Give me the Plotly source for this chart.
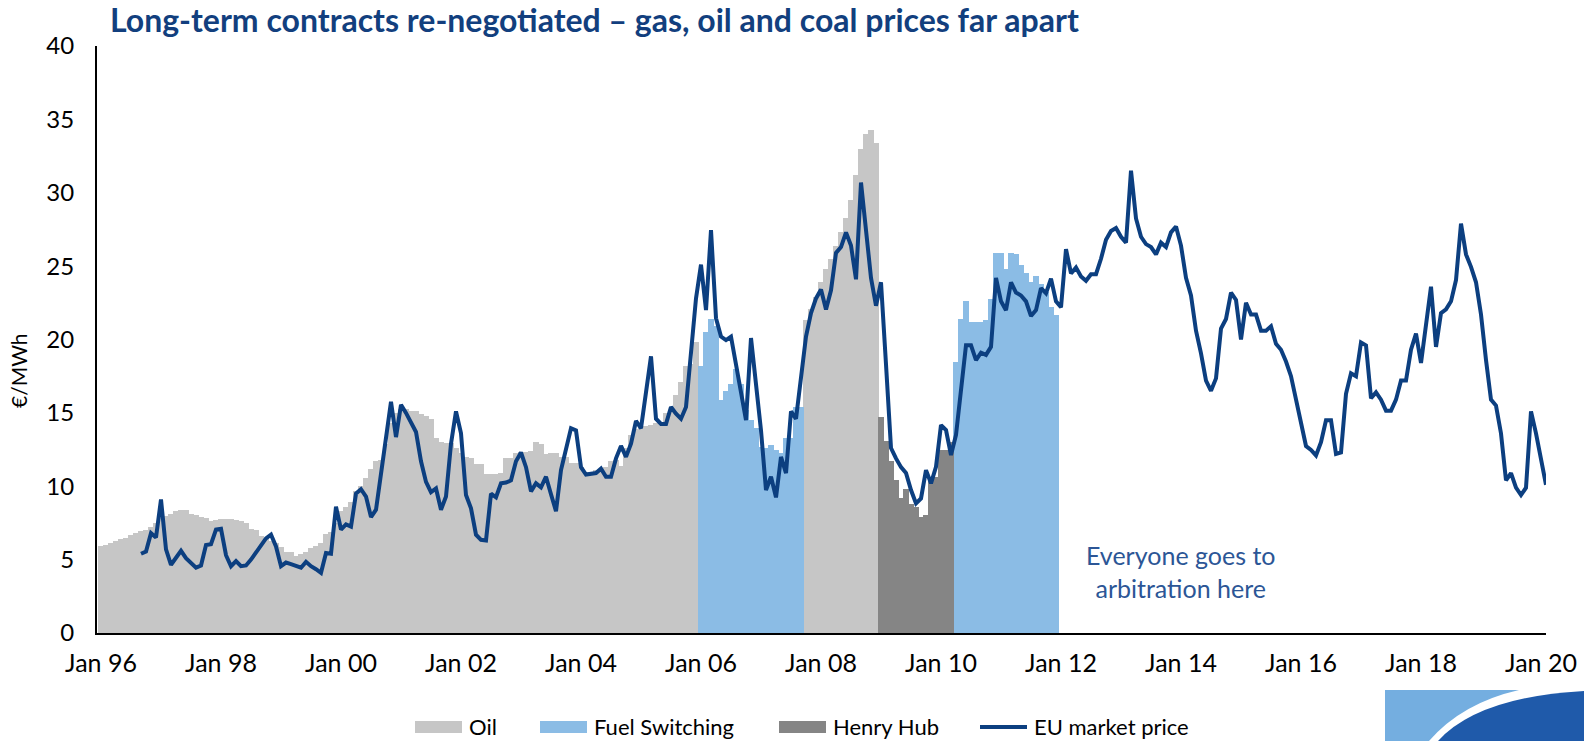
import plotly.graph_objects as go

FIRST_YEAR = 1996


def month_index(ym):
    """Months elapsed since Jan 1996 for a 'YYYY-MM' string."""
    year, month = ym.split("-")
    return (int(year) - FIRST_YEAR) * 12 + int(month) - 1


# Long-term contract price by indexation regime, EUR/MWh, one value per month
oil_jan96_dec05 = [
    5.95, 6.0, 6.1, 6.25, 6.4, 6.5, 6.65, 6.8, 6.95, 7.05, 7.25, 7.5,
    7.85, 7.95, 8.1, 8.3, 8.35, 8.35, 8.1, 8.05, 7.9, 7.85, 7.65, 7.7,
    7.8, 7.8, 7.8, 7.7, 7.65, 7.5, 7.1, 7.0, 6.6, 6.5, 6.3, 6.1,
    5.85, 5.55, 5.5, 5.25, 5.35, 5.55, 5.8, 5.9, 6.15, 6.75, 6.9, 7.5,
    8.3, 8.6, 8.95, 9.7, 10.0, 10.55, 11.15, 11.75, 11.8, 12.9, 14.3, 15.0,
    15.25, 15.25, 15.15, 15.1, 14.95, 14.8, 14.6, 13.3, 13.0, 12.95, 12.95, 12.6,
    12.3, 12.0, 11.95, 11.5, 11.5, 10.85, 10.85, 10.85, 10.9, 11.9, 11.9, 12.3,
    12.35, 12.35, 12.4, 13.0, 12.9, 12.2, 12.3, 12.3, 12.0, 12.0, 11.6, 11.6,
    11.3, 11.0, 11.0, 11.1, 11.2, 11.3, 11.7, 11.8, 11.4, 12.6, 13.5, 13.9,
    14.0, 14.1, 14.2, 14.3, 14.4, 15.0, 15.2, 16.2, 17.1, 18.2, 18.3, 19.8,
]
fuel_switching_jan06_sep07 = [
    18.2, 20.5, 21.4, 20.9, 15.9, 16.5, 17.0, 18.0, 17.0, 15.2, 14.5, 14.0,
    12.7, 12.6, 12.8, 12.5, 12.3, 13.3, 13.3, 15.4, 15.4,
]
oil_oct07_dec08 = [
    21.3, 22.1, 22.9,
    23.9, 24.8, 25.5, 26.4, 27.3, 28.3, 29.5, 31.2, 33.0, 34.0, 34.3, 33.4,
]
henry_hub_jan09_mar10 = [
    14.7, 13.1, 11.7, 10.4, 9.2, 9.8, 8.8, 8.6, 7.9, 8.05, 10.4, 10.6,
    12.5, 12.5, 13.0,
]
fuel_switching_apr10_dec11 = [
    18.5, 21.4, 22.6, 21.2, 21.2, 21.2, 21.35, 22.75, 25.9,
    25.9, 24.8, 25.9, 25.85, 25.05, 24.5, 23.9, 24.3, 23.8, 23.25, 22.2, 21.7,
]

# EU hub market price, EUR/MWh, monthly from Sep 1996 to Feb 2020
eu_market_start = "1996-09"
eu_market_price = [
    5.4, 5.55, 6.8, 6.5,
    9.1, 5.7, 4.65, 5.1, 5.6, 5.1, 4.75, 4.45, 4.6, 6.0, 6.05, 7.05,
    7.1, 5.3, 4.55, 4.9, 4.55, 4.6, 5.0, 5.5, 6.0, 6.45, 6.7, 5.9,
    4.55, 4.8, 4.7, 4.6, 4.45, 4.85, 4.55, 4.35, 4.1, 5.45, 5.4, 8.6,
    7.05, 7.4, 7.25, 9.5, 9.8, 9.3, 7.9, 8.4, 10.7, 13.2, 15.75, 13.35,
    15.55, 15.0, 14.35, 13.7, 11.7, 10.3, 9.6, 9.85, 8.4, 9.3, 12.9, 15.1,
    13.6, 9.4, 8.5, 6.7, 6.35, 6.3, 9.5, 9.25, 10.2, 10.25, 10.4, 11.7,
    12.3, 11.3, 9.65, 10.2, 9.93, 10.65, 9.45, 8.3, 11.1, 12.6, 13.95, 13.8,
    11.3, 10.8, 10.85, 10.9, 11.2, 10.65, 10.65, 11.9, 12.75, 12.0, 12.9, 14.45,
    13.95, 16.4, 18.85, 14.6, 14.25, 14.25, 15.4, 14.95, 14.6, 15.4, 19.05, 22.8,
    25.1, 22.0, 27.45, 21.45, 20.2, 19.96, 20.2, 18.4, 16.3, 14.5, 20.1, 17.0,
    13.8, 9.74, 10.65, 9.24, 12.0, 10.9, 15.1, 14.6, 17.5, 20.2, 21.8, 22.8,
    23.4, 22.05, 23.35, 25.9, 26.3, 27.3, 26.4, 24.1, 30.7, 27.2, 24.2, 22.3,
    23.9, 18.3, 12.6, 11.9, 11.3, 10.9, 9.74, 8.83, 9.17, 11.1, 10.2, 11.33,
    14.17, 13.83, 12.13, 13.5, 16.3, 19.6, 19.6, 18.6, 19.1, 18.95, 19.5, 24.2,
    22.6, 22.0, 23.9, 23.2, 23.0, 22.6, 21.6, 22.0, 23.5, 23.15, 24.15, 22.6,
    22.2, 26.15, 24.5, 24.9, 24.3, 24.0, 24.45, 24.45, 25.5, 26.8, 27.4, 27.6,
    27.0, 26.6, 31.5, 28.25, 27.0, 26.5, 26.3, 25.8, 26.6, 26.3, 27.3, 27.7,
    26.4, 24.2, 23.0, 20.6, 19.05, 17.2, 16.5, 17.35, 20.75, 21.4, 23.2, 22.7,
    20.0, 22.5, 21.7, 21.7, 20.6, 20.6, 20.9, 19.7, 19.3, 18.5, 17.5, 15.8,
    14.2, 12.74, 12.47, 12.1, 13.0, 14.5, 14.5, 12.2, 12.3, 16.3, 17.7, 17.5,
    19.8, 19.6, 16.0, 16.4, 15.9, 15.15, 15.15, 15.9, 17.2, 17.2, 19.3, 20.4,
    18.4, 21.0, 23.6, 19.5, 21.8, 22.05, 22.6, 24.05, 27.9, 25.8, 24.95, 23.9,
    21.7, 18.6, 15.9, 15.5, 13.6, 10.4, 10.9, 9.9, 9.4, 9.9, 15.1, 13.6,
    11.8, 10.1,
]

tick_labels = ["Jan 96", "Jan 98", "Jan 00", "Jan 02", "Jan 04", "Jan 06", "Jan 08",
               "Jan 10", "Jan 12", "Jan 14", "Jan 16", "Jan 18", "Jan 20"]
y_ticks = [0, 5, 10, 15, 20, 25, 30, 35, 40]

contract_segments = [
    ("Oil", "1996-01", oil_jan96_dec05),
    ("Fuel Switching", "2006-01", fuel_switching_jan06_sep07),
    ("Oil", "2007-10", oil_oct07_dec08),
    ("Henry Hub", "2009-01", henry_hub_jan09_mar10),
    ("Fuel Switching", "2010-04", fuel_switching_apr10_dec11),
]
series_colors = {"Oil": "#C6C6C6", "Fuel Switching": "#8BBCE5", "Henry Hub": "#858585"}
LINE_COLOR = "#0C3F80"
LINE_WIDTH = 4
TEXT_FONT = "Lato"

# Figure geometry (pixels); the plot area spans x 97..1546, y 46..633
W, H = 1584, 741
L, R, T, B = 97, 38, 46, 108
PW, PH = W - L - R, H - T - B


def px(x):
    return (x - L) / PW


def py(y):
    return (H - B - y) / PH


fig = go.Figure()

for name in ["Oil", "Fuel Switching", "Henry Hub"]:
    xs, ys = [], []
    for seg_name, start, values in contract_segments:
        if seg_name != name:
            continue
        i0 = month_index(start)
        xs += [i0 + k for k in range(len(values))]
        ys += values
    fig.add_trace(go.Bar(
        x=xs, y=ys, name=name, width=1.04,
        marker=dict(color=series_colors[name], line=dict(width=0)),
    ))

m0 = month_index(eu_market_start)
fig.add_trace(go.Scatter(
    x=[m0 + k for k in range(len(eu_market_price))], y=eu_market_price,
    mode="lines", name="EU market price",
    line=dict(color=LINE_COLOR, width=LINE_WIDTH),
))

tick_vals = [month_index(f"{FIRST_YEAR + 2 * k}-01") for k in range(len(tick_labels))]

fig.update_layout(
    width=W, height=H,
    margin=dict(l=L, r=R, t=T, b=B, autoexpand=False),
    plot_bgcolor="white", paper_bgcolor="white",
    barmode="overlay", bargap=0, showlegend=False,
    xaxis=dict(
        range=[-0.8, 289.0], tickmode="array", tickvals=tick_vals, ticktext=tick_labels,
        showline=True, linecolor="black", linewidth=2, ticks="", automargin=False,
        showgrid=False, zeroline=False, ticklabelstandoff=7,
        tickfont=dict(family=TEXT_FONT, size=25, color="black"),
    ),
    yaxis=dict(
        range=[0, 40], tickmode="array", tickvals=y_ticks, automargin=False,
        showline=True, linecolor="black", linewidth=2, ticks="",
        showgrid=False, zeroline=False, ticklabelstandoff=16,
        tickfont=dict(family=TEXT_FONT, size=24, color="black"),
    ),
)


def note(text, x, y, size, color="black", **kw):
    return dict(text=text, x=px(x), y=py(y), xref="paper", yref="paper",
                showarrow=False, font=dict(family=TEXT_FONT, size=size, color=color), **kw)


annotations = [
    note("<b>Long-term contracts re-negotiated \u2013 gas, oil and coal prices far apart</b>",
         108, 20, 32, "#123F7E", xanchor="left", yanchor="middle"),
    note("\u20ac/MWh", 18, 371, 21, textangle=-90, xanchor="center", yanchor="middle"),
    note("Everyone goes to<br>arbitration here", 1180, 571, 25, "#2C5696",
         xanchor="center", yanchor="middle"),
]

# Legend drawn as swatches plus labels along the bottom
legend_items = [
    ("Oil", 415, "bar"), ("Fuel Switching", 540, "bar"),
    ("Henry Hub", 779, "bar"), ("EU market price", 980, "line"),
]
shapes = []
SW_W, LEG_Y = 47, 727
for label, x0, kind in legend_items:
    if kind == "bar":
        shapes.append(dict(type="rect", xref="paper", yref="paper",
                           x0=px(x0), x1=px(x0 + SW_W), y0=py(LEG_Y - 6), y1=py(LEG_Y + 6),
                           fillcolor=series_colors[label], line=dict(width=0)))
    else:
        shapes.append(dict(type="line", xref="paper", yref="paper",
                           x0=px(x0), x1=px(x0 + SW_W), y0=py(LEG_Y), y1=py(LEG_Y),
                           line=dict(color=LINE_COLOR, width=LINE_WIDTH)))
    annotations.append(note(label, x0 + SW_W + 5, LEG_Y, 22, xanchor="left", yanchor="middle"))

# Corner emblem: light-blue block, white sweep and dark-blue arc
shapes.append(dict(type="rect", xref="paper", yref="paper",
                   x0=px(1385), x1=px(1584), y0=py(741), y1=py(690),
                   fillcolor="#74AEE0", line=dict(width=0), layer="above"))
shapes.append(dict(type="path", xref="paper", yref="paper", layer="above",
                   path=(f"M {px(1429)} {py(741)} Q {px(1462)} {py(703)} {px(1519)} {py(690)} "
                         f"L {px(1584)} {py(690)} L {px(1584)} {py(741)} Z"),
                   fillcolor="white", line=dict(width=0)))
shapes.append(dict(type="path", xref="paper", yref="paper", layer="above",
                   path=(f"M {px(1438)} {py(741)} Q {px(1478)} {py(697)} {px(1584)} {py(691)} "
                         f"L {px(1584)} {py(741)} Z"),
                   fillcolor="#1F5AAA", line=dict(width=0)))

fig.update_layout(annotations=annotations, shapes=shapes)

fig.write_html("out.html")
